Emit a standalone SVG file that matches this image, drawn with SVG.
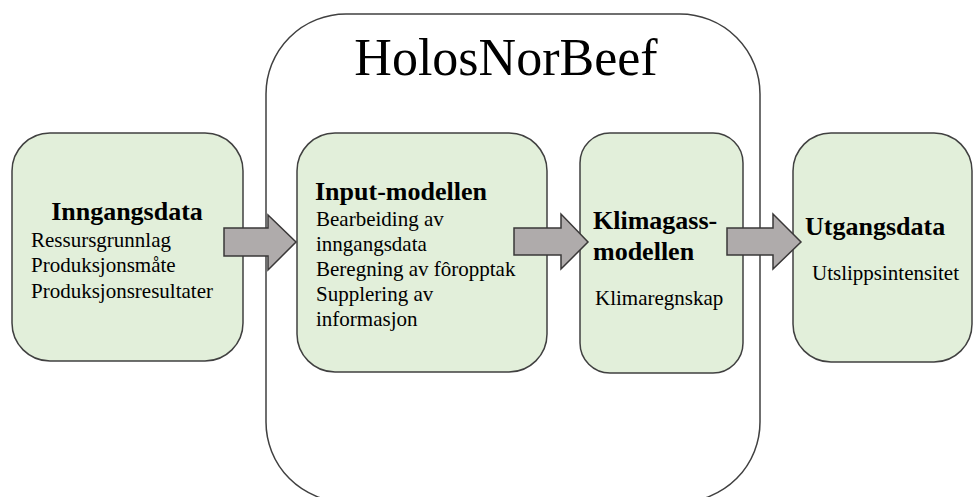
<svg xmlns="http://www.w3.org/2000/svg" width="973" height="497" viewBox="0 0 973 497">
<style>
.node{fill:#E2EFDA;stroke:#404040;stroke-width:1.5}
.cont{fill:#ffffff;stroke:#404040;stroke-width:1.5}
.arrow{fill:#AFABAB;stroke:#3A3838;stroke-width:1.5;stroke-linejoin:miter}
.t{font-family:"Liberation Serif","Times New Roman",serif;fill:#000}
.b{font-weight:bold;font-size:26px}
.r{font-size:21px}
.title{font-size:52px}
</style>
<rect width="973" height="497" fill="#ffffff"/>
<g id="holosnorbeef">
<rect class="cont" x="266" y="14" width="494" height="488" rx="80" ry="80"/>
<text class="t title" x="506" y="75" text-anchor="middle">HolosNorBeef</text>
</g>
<g id="inngangsdata">
<rect class="node" x="12" y="133" width="231" height="228" rx="38" ry="38"/>
<text class="t b" x="127" y="220" text-anchor="middle">Inngangsdata</text>
<text class="t r" x="31" y="247">Ressursgrunnlag</text>
<text class="t r" x="31" y="272">Produksjonsmåte</text>
<text class="t r" x="31" y="297.5">Produksjonsresultater</text>
</g>
<g id="input-modellen">
<rect class="node" x="297" y="133" width="250" height="239" rx="38" ry="38"/>
<text class="t b" x="315" y="200">Input-modellen</text>
<text class="t r" x="316" y="226">Bearbeiding av</text>
<text class="t r" x="316" y="251">inngangsdata</text>
<text class="t r" x="316" y="276">Beregning av fôropptak</text>
<text class="t r" x="316" y="301">Supplering av</text>
<text class="t r" x="316" y="326">informasjon</text>
</g>
<g id="klimagassmodellen">
<rect class="node" x="580" y="133" width="163" height="240" rx="30" ry="30"/>
<text class="t b" x="593" y="229">Klimagass-</text>
<text class="t b" x="593" y="260">modellen</text>
<text class="t r" x="595" y="305">Klimaregnskap</text>
</g>
<g id="utgangsdata">
<rect class="node" x="793" y="133" width="179" height="229" rx="38" ry="38"/>
<text class="t b" x="805" y="235">Utgangsdata</text>
<text class="t r" x="812" y="280">Utslippsintensitet</text>
</g>
<g id="connectors">
<polygon class="arrow" points="224,228 268,228 268,215 296,242 268,270 268,256 224,256"/>
<polygon class="arrow" points="514,228 561,228 561,214 588,242 561,269 561,255 514,255"/>
<polygon class="arrow" points="727,228 773,228 773,214 801,242 773,269 773,255 727,255"/>
</g>
</svg>
